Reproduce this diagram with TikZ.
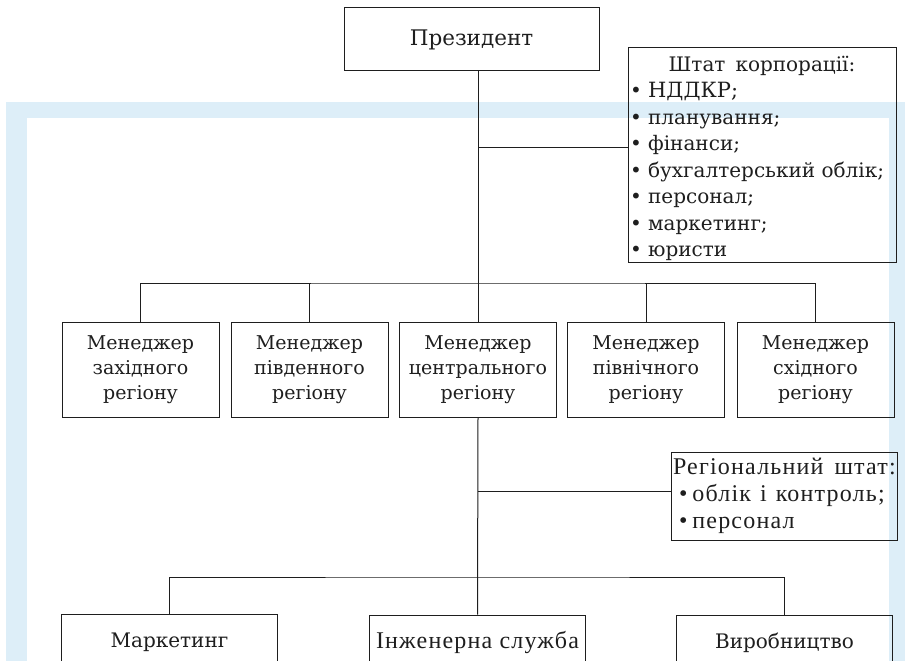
\documentclass[tikz,border=0pt]{standalone}
\usepackage{fontspec}
\setmainfont{DejaVu Serif}
\newfontfamily\narrowserif[LetterSpace=5]{Liberation Serif}
\usepackage{tikz}
\usetikzlibrary{positioning}
\definecolor{ink}{HTML}{1E1E1E}
\definecolor{wmblue}{HTML}{DDEEF8}
\tikzset{
  unit/.style={draw=ink,line width=1pt,text=ink,align=center,inner sep=0pt},
  link/.style={draw=ink,line width=1pt},
  mgr/.style={unit,minimum width=157,minimum height=95},
  base/.style={unit,minimum width=216,minimum height=56,font=\fontsize{20}{25}\selectfont},
}
\newcommand{\rline}[1]{\makebox[226pt][l]{#1}}

\begin{document}
\begin{tikzpicture}[x=1pt,y=-1pt,font=\fontsize{19}{25}\selectfont]
  \useasboundingbox (0,0) rectangle (905,661);
  \clip (0,0) rectangle (905,661);
  \fill[wmblue] (6,102) rectangle (905,661);
  \fill[white] (27,118) rectangle (889,661);

  \node[unit,minimum width=255,minimum height=63,font=\fontsize{21.5}{25}\selectfont] (pres) at (471.5,39.5) {Президент};
  \node[unit,minimum width=268,minimum height=214,text width=264,align=none,font=\fontsize{20}{26.5}\selectfont] (staff) at (762,155)
    {\centering\rule{0pt}{22pt}Штат\hspace{10pt}корпорації:\par\raggedright
     • {\fontsize{21}{26.5}\selectfont НДДКР;}\\
     • планування;\\
     • фінанси;\\
     • бухгалтерський облік;\\
     • персонал;\\
     • маркетинг;\\
     • юристи};

  \node[mgr] (m1) at (140.5,369.5) {Менеджер\\західного\\регіону};
  \node[mgr] (m2) at (309.5,369.5) {Менеджер\\південного\\регіону};
  \node[mgr] (m3) at (478,369.5) {Менеджер\\центрального\\регіону};
  \node[mgr] (m4) at (646,369.5) {Менеджер\\північного\\регіону};
  \node[mgr] (m5) at (815.5,369.5) {Менеджер\\східного\\регіону};

  \node[unit,minimum width=226,minimum height=88,align=left,font=\narrowserif\fontsize{24}{27}\selectfont] (region) at (784,496)
    {\rline{\hspace*{2pt}Регіональний\hspace{11pt}штат:}\\
     \rline{\hspace*{8pt}•\hspace{5pt}облік\hspace{9pt}і\hspace{9pt}контроль;}\\
     \rline{\hspace*{8pt}•\hspace{5pt}персонал}};

  \node[base] (mark) at (169.5,642) {\raisebox{4pt}{Маркетинг}};
  \node[base,font=\narrowserif\fontsize{24}{27}\selectfont] (eng) at (477.5,643) {\raisebox{7pt}{Інженерна\ служба}};
  \node[base] (prod) at (784.5,643) {\raisebox{4pt}{Виробництво}};

  \coordinate (sj) at (478,147);
  \coordinate (topbus) at (478,283);
  \coordinate (rj) at (478,491);
  \coordinate (lowbus) at (478,577);

  \draw[link] (pres.south -| m3.north) -- (m3.north);
  \draw[link] (sj) -- (sj -| staff.west);
  \draw[link] (m1.north) |- (topbus) -| (m5.north);
  \draw[link] (m2.north) -- (m2.north |- topbus);
  \draw[link] (m4.north) -- (m4.north |- topbus);
  \draw[link] (m3.south) -- (eng.north);
  \draw[link] (rj) -- (rj -| region.west);
  \draw[link] (mark.north) |- (lowbus) -| (prod.north);
\end{tikzpicture}
\end{document}
